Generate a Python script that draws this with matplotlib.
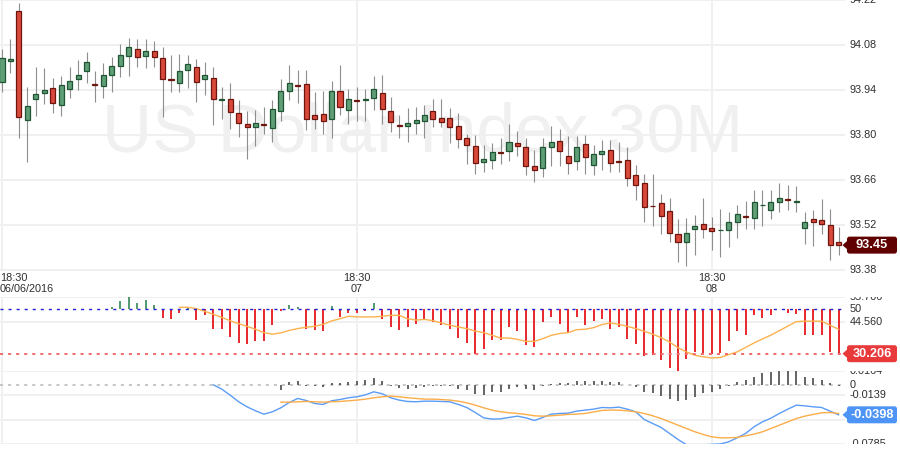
import matplotlib
matplotlib.use('Agg')
import numpy as np
import matplotlib.pyplot as plt
from matplotlib.patches import FancyBboxPatch, Polygon
from matplotlib.transforms import ScaledTranslation

plt.rcParams['font.family'] = ['Liberation Sans', 'DejaVu Sans']
plt.rcParams['lines.scale_dashes'] = False

# ---- data (30 minute candles, US Dollar Index) ----
opens = [93.964, 94.029, 94.185, 93.846, 93.913, 93.930, 93.945, 93.892, 93.944, 93.975,
         93.998, 93.957, 93.951, 93.985, 94.014, 94.047, 94.067, 94.045, 94.060, 94.039,
         93.972, 93.961, 94.003, 94.011, 93.973, 93.976, 93.910, 93.911, 93.867, 93.833,
         93.824, 93.833, 93.821, 93.874, 93.936, 93.954, 93.958, 93.861, 93.864, 93.849,
         93.936, 93.877, 93.908, 93.910, 93.914, 93.930, 93.874, 93.829, 93.827, 93.836,
         93.843, 93.874, 93.852, 93.852, 93.827, 93.790, 93.765, 93.714, 93.721, 93.746,
         93.749, 93.774, 93.762, 93.703, 93.696, 93.762, 93.780, 93.734, 93.718, 93.771,
         93.706, 93.740, 93.752, 93.718, 93.721, 93.676, 93.650, 93.579, 93.587, 93.563,
         93.491, 93.466, 93.507, 93.522, 93.510, 93.502, 93.503, 93.528, 93.545, 93.541,
         93.580, 93.566, 93.591, 93.600, 93.592, 93.510, 93.538, 93.535, 93.519, 93.466]
highs = [94.067, 94.098, 94.210, 93.948, 94.011, 94.007, 93.976, 93.984, 94.011, 94.033,
         94.057, 93.999, 94.023, 94.042, 94.082, 94.101, 94.098, 94.098, 94.091, 94.073,
         94.049, 94.051, 94.048, 94.035, 94.027, 94.011, 93.948, 93.961, 93.909, 93.874,
         93.876, 93.886, 93.909, 93.973, 94.017, 94.002, 94.002, 93.934, 93.936, 93.968,
         94.017, 93.943, 93.948, 93.942, 93.983, 93.986, 93.918, 93.861, 93.884, 93.886,
         93.892, 93.911, 93.911, 93.883, 93.867, 93.801, 93.800, 93.768, 93.774, 93.790,
         93.833, 93.811, 93.790, 93.752, 93.790, 93.828, 93.818, 93.795, 93.795, 93.800,
         93.769, 93.784, 93.784, 93.778, 93.761, 93.705, 93.679, 93.678, 93.616, 93.604,
         93.536, 93.541, 93.551, 93.604, 93.545, 93.570, 93.560, 93.582, 93.595, 93.628,
         93.629, 93.629, 93.651, 93.644, 93.641, 93.560, 93.567, 93.601, 93.569, 93.511]
lows = [93.932, 93.992, 93.790, 93.714, 93.860, 93.896, 93.867, 93.860, 93.916, 93.940,
        93.961, 93.901, 93.916, 93.935, 93.981, 93.984, 94.010, 94.009, 94.010, 93.857,
        93.935, 93.932, 93.947, 93.901, 93.924, 93.831, 93.849, 93.818, 93.792, 93.724,
        93.764, 93.801, 93.776, 93.843, 93.907, 93.899, 93.816, 93.818, 93.801, 93.790,
        93.861, 93.835, 93.842, 93.842, 93.877, 93.835, 93.810, 93.790, 93.776, 93.801,
        93.790, 93.824, 93.823, 93.774, 93.758, 93.708, 93.677, 93.683, 93.692, 93.708,
        93.717, 93.733, 93.674, 93.652, 93.667, 93.702, 93.702, 93.677, 93.689, 93.677,
        93.674, 93.691, 93.683, 93.683, 93.639, 93.598, 93.527, 93.517, 93.490, 93.465,
        93.403, 93.390, 93.424, 93.478, 93.440, 93.418, 93.451, 93.478, 93.507, 93.507,
        93.516, 93.538, 93.559, 93.564, 93.559, 93.459, 93.453, 93.490, 93.409, 93.425]
closes = [94.039, 94.035, 93.857, 93.889, 93.927, 93.940, 93.899, 93.955, 93.968, 93.986,
          94.026, 93.955, 93.986, 94.014, 94.048, 94.073, 94.044, 94.060, 94.042, 93.975,
          93.970, 93.999, 94.020, 93.964, 93.986, 93.911, 93.912, 93.871, 93.836, 93.824,
          93.836, 93.831, 93.880, 93.936, 93.961, 93.951, 93.849, 93.849, 93.843, 93.936,
          93.888, 93.911, 93.906, 93.912, 93.942, 93.880, 93.839, 93.827, 93.836, 93.846,
          93.861, 93.849, 93.839, 93.824, 93.787, 93.768, 93.712, 93.726, 93.745, 93.744,
          93.777, 93.765, 93.703, 93.690, 93.762, 93.777, 93.749, 93.712, 93.762, 93.731,
          93.740, 93.749, 93.712, 93.716, 93.665, 93.643, 93.575, 93.577, 93.547, 93.494,
          93.466, 93.494, 93.516, 93.507, 93.500, 93.504, 93.528, 93.553, 93.543, 93.591,
          93.582, 93.591, 93.603, 93.598, 93.594, 93.528, 93.528, 93.522, 93.457, 93.456]

rsi = [None] * 13 + [
    51.0, 53.6, 55.3, 52.8, 54.2, 52.1, 46.1, 45.5, 48.5, 50.8,
    45.1, 47.3, 41.1, 41.1, 37.7, 35.1, 34.4, 36.0, 35.7, 42.9,
    49.4, 51.8, 51.0, 41.1, 40.6, 40.2, 51.5, 46.6, 48.5, 48.2,
    49.1, 52.8, 45.5, 42.1, 40.6, 42.1, 43.3, 45.8, 44.4, 43.2,
    41.1, 37.2, 35.1, 30.2, 32.5, 36.2, 36.2, 42.1, 40.2, 34.0,
    33.2, 44.4, 46.4, 43.3, 39.5, 46.4, 42.9, 44.7, 45.5, 41.1,
    42.0, 36.6, 34.7, 29.2, 29.8, 27.3, 24.0, 22.5, 27.7, 31.0,
    30.7, 30.1, 30.5, 35.7, 40.2, 38.7, 47.3, 46.1, 47.3, 50.2,
    48.5, 47.8, 38.4, 38.4, 38.4, 30.8, 30.206]
rsi_ma = [None] * 21 + [
    50.9, 50.9, 50.3, 49.1, 47.8, 46.4, 44.9, 43.6, 42.4, 41.1,
    39.6, 38.9, 39.5, 40.6, 41.4, 42.0, 42.4, 43.3, 44.8, 45.8,
    46.9, 46.6, 46.6, 46.6, 46.9, 47.3, 47.3, 45.8, 45.2, 45.5,
    44.9, 43.9, 42.9, 42.1, 41.4, 40.3, 39.6, 38.4, 37.2, 37.2,
    36.6, 35.7, 35.7, 36.9, 38.4, 39.2, 39.6, 40.9, 41.1, 41.8,
    43.2, 43.9, 43.3, 42.4, 41.4, 40.2, 38.9, 37.4, 35.4, 32.9,
    31.0, 29.5, 28.8, 28.3, 28.5, 29.8, 31.0, 33.0, 35.0, 36.8,
    38.5, 40.5, 42.5, 44.5, 44.7, 44.7, 44.7, 42.9, 41.1]
macd = [None] * 25 + [
    0.0000, -0.0057, -0.0137, -0.0225, -0.0292, -0.0345, -0.0389, -0.0358, -0.0305, -0.0234,
    -0.0181, -0.0208, -0.0248, -0.0261, -0.0212, -0.0195, -0.0172, -0.0159, -0.0133, -0.0093,
    -0.0119, -0.0172, -0.0203, -0.0221, -0.0225, -0.0217, -0.0217, -0.0221, -0.0225, -0.0261,
    -0.0301, -0.0367, -0.0438, -0.0455, -0.0451, -0.0433, -0.0416, -0.0438, -0.0473, -0.0433,
    -0.0389, -0.0380, -0.0376, -0.0349, -0.0336, -0.0323, -0.0301, -0.0305, -0.0296, -0.0323,
    -0.0358, -0.0460, -0.0513, -0.0566, -0.0645, -0.0725, -0.0795, -0.0800, -0.0795, -0.0790,
    -0.0785, -0.0756, -0.0703, -0.0645, -0.0557, -0.0491, -0.0442, -0.0380, -0.0323, -0.0270,
    -0.0279, -0.0292, -0.0301, -0.0349, -0.0398]
signal = [None] * 33 + [
    -0.0230, -0.0230, -0.0226, -0.0221, -0.0225, -0.0230, -0.0225, -0.0221, -0.0212, -0.0203,
    -0.0190, -0.0172, -0.0159, -0.0150, -0.0159, -0.0172, -0.0181, -0.0190, -0.0190, -0.0195,
    -0.0203, -0.0217, -0.0239, -0.0270, -0.0305, -0.0336, -0.0358, -0.0371, -0.0380, -0.0393,
    -0.0411, -0.0416, -0.0411, -0.0402, -0.0393, -0.0389, -0.0380, -0.0360, -0.0340, -0.0335,
    -0.0336, -0.0345, -0.0358, -0.0380, -0.0411, -0.0447, -0.0491, -0.0535, -0.0579, -0.0623,
    -0.0659, -0.0690, -0.0703, -0.0703, -0.0698, -0.0676, -0.0654, -0.0623, -0.0579, -0.0535,
    -0.0491, -0.0447, -0.0416, -0.0393, -0.0371, -0.0367, -0.0380]
hist = [None] * 33 + [
    -0.0075, 0.0035, 0.0050, -0.0020, -0.0010, -0.0035, 0.0027, 0.0020, 0.0040, 0.0057,
    0.0060, 0.0090, 0.0050, -0.0010, -0.0040, -0.0050, -0.0045, -0.0027, -0.0022, -0.0018,
    -0.0018, -0.0050, -0.0066, -0.0128, -0.0141, -0.0102, -0.0093, -0.0057, -0.0030, -0.0057,
    -0.0075, -0.0013, 0.0013, 0.0022, 0.0022, 0.0049, 0.0049, 0.0049, 0.0057, 0.0040,
    0.0040, 0.0000, -0.0027, -0.0093, -0.0115, -0.0146, -0.0190, -0.0217, -0.0203, -0.0159,
    -0.0115, -0.0093, -0.0057, -0.0013, 0.0040, 0.0060, 0.0106, 0.0150, 0.0172, 0.0180,
    0.0180, 0.0180, 0.0106, 0.0093, 0.0062, 0.0030, -0.0013]

price_ticks = [94.22, 94.08, 93.94, 93.80, 93.66, 93.52, 93.38]
osc_ticks = [55.66, 50, 44.560]
osc_tick_labels = ['55.706', '50', '44.560']
macd_ticks = [0.0187, 0, -0.0139, -0.0785]
macd_tick_labels = ['0.0164', '0', '-0.0139', '-0.0785']
time_idx = [0, 42, 84]
time_top = ['18:30', '18:30', '18:30']
time_bottom = ['06/06/2016', '07', '08']
last_price, last_price_label = 93.456, '93.45'
last_rsi, last_rsi_label = 30.206, '30.206'
last_macd, last_macd_label = -0.0398, '-0.0398'

# ---- layout ----
W, H = 900, 451
step, x0 = 8.45, 2.0          # px per candle, px of first candle
xlim = (-x0 / step, (W - x0) / step)
grid_end = (845 - x0) / step
label_x = (850 - x0) / step
tag_x = (847 - x0) / step

o = np.array(opens); h = np.array(highs); l = np.array(lows); c = np.array(closes)
x = np.arange(len(o))
rsi = np.array(rsi, dtype=float); rsi_ma = np.array(rsi_ma, dtype=float)
macd = np.array(macd, dtype=float); signal = np.array(signal, dtype=float)
hist = np.array(hist, dtype=float)

fig = plt.figure(figsize=(W / 100, H / 100), dpi=100)
ax_p = fig.add_axes([0, 155 / H, 1, 296 / H])
ax_o = fig.add_axes([0, 80.3 / H, 1, 74.1 / H])
ax_m = fig.add_axes([0, 7 / H, 1, 73.3 / H])
ax_p.set_ylim(93.2974, 94.2203)
ax_o.set_ylim(22.63, 55.66)
ax_m.set_ylim(-0.0785, 0.0187)
for ax in (ax_p, ax_o, ax_m):
    ax.set_xlim(*xlim)
    ax.axis('off')

grid_c = '#f0f0f0'
txt_c = '#2e2e2e'
fs = 7.8

# price panel
ax_p.text((422.5 - x0) / step, 93.804, 'US Dollar Index 30M', ha='center', va='center',
          fontsize=50, color='#f0f0f0', zorder=0)
ax_p.hlines(price_ticks, xlim[0], grid_end, color=grid_c, lw=1.4, zorder=0.5)
ax_p.vlines(time_idx, 93.3785, 94.2203, color=grid_c, lw=1.4, zorder=0.5)
ax_p.vlines(x, l, h, color='#8e8e8e', lw=0.8, zorder=2)
up = c >= o
fills = np.where(up, '#5f9e77', '#d9493b')
edges = np.where(up, '#1f5533', '#6e150d')
ax_p.bar(x, np.maximum(np.abs(c - o), 0.0025), bottom=np.minimum(o, c), width=0.6,
         color=fills, edgecolor=edges, linewidth=0.9, zorder=3)
for v in price_ticks:
    ax_p.text(label_x, v, '%.2f' % v, ha='left', va='center', fontsize=fs, color=txt_c)

tr = ax_p.get_xaxis_transform()
for i, t1, t2 in zip(time_idx, time_top, time_bottom):
    if i == 0:
        xi, ha = xlim[0], 'left'
    else:
        xi, ha = i, 'center'
    ax_p.text(xi, (296 - 278) / 296, t1, transform=tr, ha=ha, va='center', fontsize=fs, color=txt_c)
    ax_p.text(xi, (296 - 288.5) / 296, t2, transform=tr, ha=ha, va='center', fontsize=fs, color=txt_c)

# oscillator panel
ax_o.hlines([55.66, 44.56], xlim[0], grid_end, color=grid_c, lw=1.4, zorder=0.5)
ax_o.vlines(time_idx, 22.63, 55.66, color=grid_c, lw=1.4, zorder=0.5)
ok = ~np.isnan(rsi)
ax_o.vlines(x[ok], 50, rsi[ok], colors=np.where(rsi[ok] >= 50, '#4f9a6e', '#e8282b'),
            lw=1.4, zorder=2)
ax_o.plot(x, rsi_ma, color='#fbb24f', lw=1.0, zorder=3)
ax_o.hlines(50, xlim[0], grid_end, color='#1f1fd6', lw=1.0, ls=(0, (2.2, 3.6)), zorder=4)
ax_o.hlines(last_rsi, xlim[0], grid_end, color='#f26b6b', lw=1.4, ls=(0, (2.2, 3.6)), zorder=4)
for v, s in zip(osc_ticks, osc_tick_labels):
    ax_o.text(label_x, v, s, ha='left', va='center', fontsize=fs, color=txt_c, clip_on=True)

# macd panel
ax_m.hlines([0.0187, -0.0139, -0.0463, -0.0785], xlim[0], grid_end, color=grid_c, lw=1.4,
            zorder=0.5)
ax_m.vlines(time_idx, -0.0785, 0.0187, color=grid_c, lw=1.4, zorder=0.5)
ax_m.hlines(0, xlim[0], grid_end, color='#c6c6c6', lw=1.4, ls=(0, (2.2, 3.6)), zorder=1)
okh = ~np.isnan(hist)
ax_m.vlines(x[okh], 0, hist[okh], color='#4a4a4a', lw=1.2, zorder=2)
ax_m.plot(x, macd, color='#5b9cf6', lw=1.0, zorder=3)
ax_m.plot(x, signal, color='#fbad48', lw=1.0, zorder=3)
for v, s in zip(macd_ticks, macd_tick_labels):
    ax_m.text(label_x, v, s, ha='left', va='center', fontsize=fs, color=txt_c, clip_on=True)


def tag(ax, y, s, color):
    trans = fig.dpi_scale_trans + ScaledTranslation(tag_x, y, ax.transData)
    box = FancyBboxPatch((0.0, -0.085), 0.5, 0.17, boxstyle='round,pad=0,rounding_size=0.025',
                         fc=color, ec='none', transform=trans, clip_on=False, zorder=6)
    tri = Polygon([(-0.045, 0), (0.005, 0.045), (0.005, -0.045)], closed=True, fc=color,
                  ec='none', transform=trans, clip_on=False, zorder=6)
    ax.add_patch(box)
    ax.add_patch(tri)
    ax.text(0.25, 0, s, transform=trans, ha='center', va='center', color='white',
            fontsize=9.2, fontweight='bold', zorder=7)


tag(ax_p, last_price, last_price_label, '#600000')
tag(ax_o, last_rsi, last_rsi_label, '#e8393b')
tag(ax_m, last_macd, last_macd_label, '#4d94f6')

fig.savefig('out.png', dpi=100)
